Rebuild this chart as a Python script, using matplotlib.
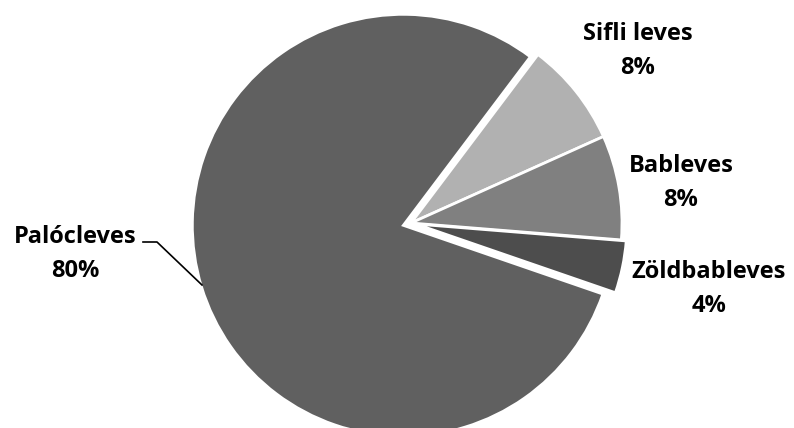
import numpy as np
import matplotlib
matplotlib.use("Agg")
from matplotlib import pyplot as plt

# data
labels = ["Palócleves", "Sifli leves", "Bableves", "Zöldbableves"]
shares = [80, 8, 8, 4]
colors = ["#606060", "#b1b1b1", "#808080", "#4d4d4d"]
explode = [8, 0, 0, 5]  # offsets in pixel units of the axes

plt.rcParams['font.family'] = ['Open Sans', 'DejaVu Sans']

fig = plt.figure(figsize=(7.94, 4.28), dpi=100)
ax = fig.add_axes([0, 0, 1, 1])

H = 428
cx, cy, r = 411, H - 223, 211
wedges, _ = ax.pie(shares, colors=colors, startangle=341, counterclock=False,
                   explode=explode, center=(cx, cy), radius=r, frame=True,
                   wedgeprops=dict(edgecolor='white', linewidth=2.0))
ax.set_xlim(0, 794)
ax.set_ylim(0, H)
ax.set_aspect('equal')
ax.axis('off')

# label positions: x centre, baseline of name line, baseline of percent line
label_pos = [(75, 243, 277), (638, 40, 74), (681, 172, 206), (709, 278, 312)]
for lab, val, (lx, y1, y2) in zip(labels, shares, label_pos):
    ax.text(lx, H - y1, lab, ha='center', va='baseline',
            fontsize=17, fontweight='bold', color='black')
    ax.text(lx, H - y2, "%d%%" % val, ha='center', va='baseline',
            fontsize=17, fontweight='bold', color='black')

# leader line for Palócleves
ax.plot([143, 157, 202], [H - 242, H - 242, H - 285], color='black', lw=1.2)

fig.savefig("out.png", dpi=100)
